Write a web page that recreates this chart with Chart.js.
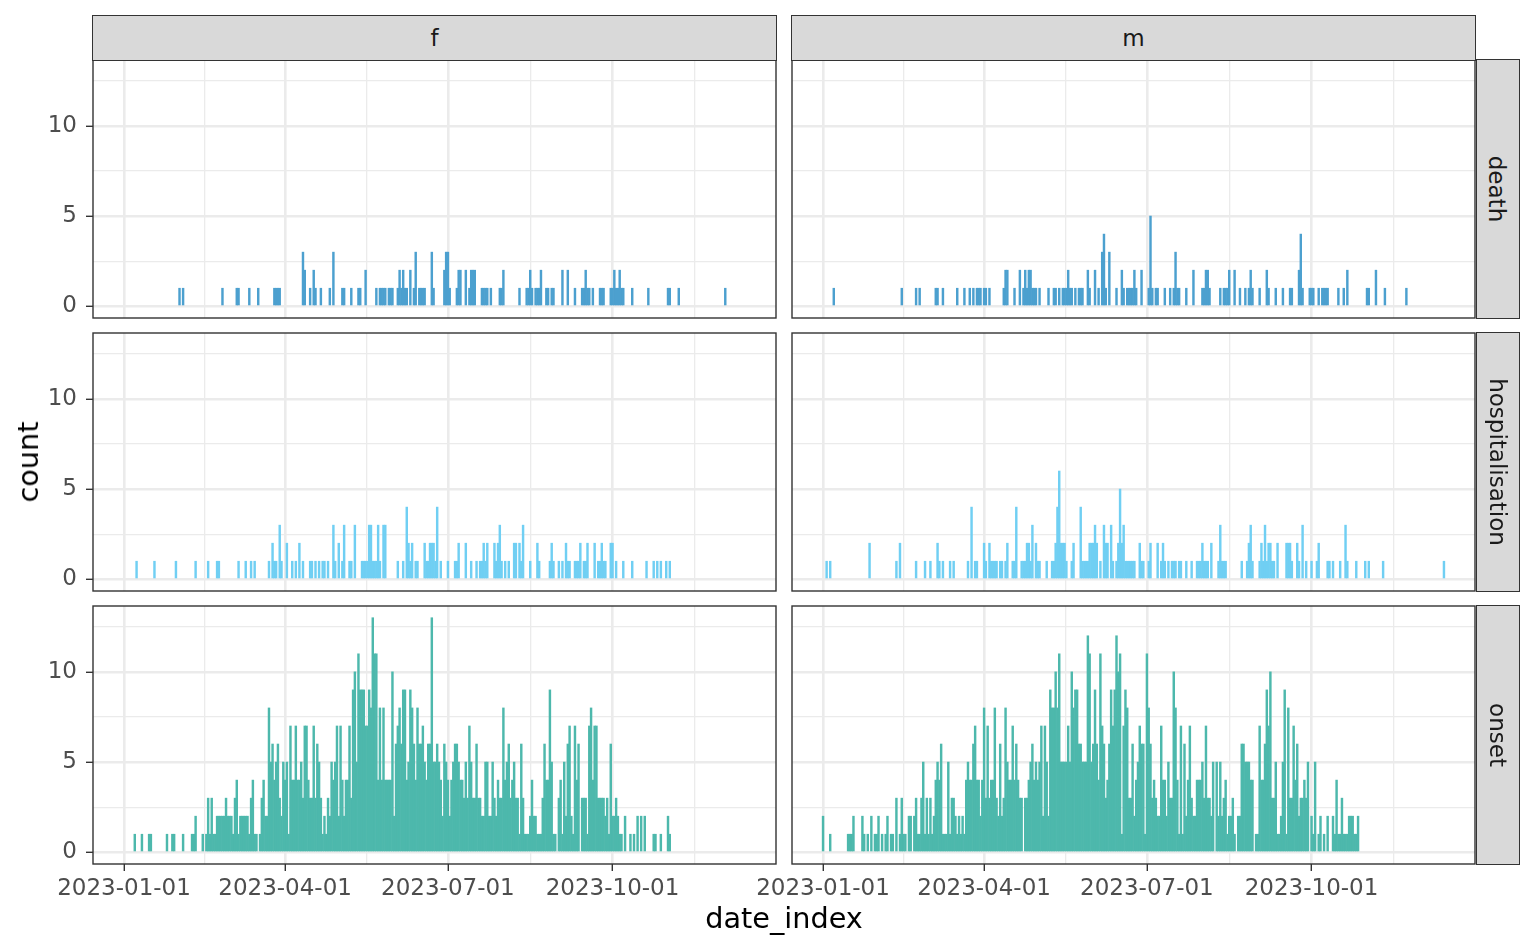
<!DOCTYPE html>
<html>
<head>
<meta charset="utf-8">
<script src="https://cdn.jsdelivr.net/npm/chart.js@4.4.1/dist/chart.umd.min.js"></script>
<style>
  body { margin: 0; background: #fff; width: 1536px; height: 949px; position: relative; overflow: hidden; font-family: "DejaVu Sans", sans-serif; }
  canvas { position: absolute; }
  .strip { position: absolute; background: #d9d9d9; border: 1.4px solid #333; box-sizing: border-box; color: #1a1a1a; font-size: 23px; display: flex; align-items: center; justify-content: center; }
  .strip.right span { transform: rotate(90deg); white-space: nowrap; }
  .title { position: absolute; font-size: 28.7px; color: #000; white-space: nowrap; transform: translate(-50%, -50%); }
</style>
</head>
<body>
<script>
Chart.defaults.font.family = '"DejaVu Sans", sans-serif';
Chart.defaults.color = '#4d4d4d';

const startDate = '2023-01-01';
const sexes = ['f', 'm'];
const outcomes = ['death', 'hospitalisation', 'onset'];
// vibrant palette at 70% over white
const outcomeColors = ['rgb(76,160,207)', 'rgb(112,207,243)', 'rgb(77,184,172)'];
const xTickDates = ['2023-01-01', '2023-04-01', '2023-07-01', '2023-10-01'];
const yTicks = [0, 5, 10];

// [days since 2023-01-01, count]
const deathF = [[31,1],[33,1],[55,1],[63,1],[64,1],[70,1],[75,1],[84,1],[85,1],[86,1],[87,1],[100,3],[101,2],[104,1],[106,2],[107,1],[110,1],[115,1],[117,3],[122,1],[123,1],[127,1],[131,1],[132,1],[135,2],[141,1],[143,1],[144,1],[145,1],[146,1],[148,1],[149,1],[150,1],[153,1],[154,2],[155,1],[156,2],[157,1],[158,1],[160,2],[162,1],[163,3],[165,1],[166,1],[167,1],[168,1],[172,3],[173,1],
  [179,2],[180,3],[181,3],[182,1],[186,1],[187,2],[188,2],[191,2],[193,1],[194,2],[195,2],[196,2],[200,1],[201,1],[202,1],[203,1],[205,1],[210,1],[211,1],[212,2],[221,1],[225,1],[226,1],[227,2],[228,1],[230,1],[231,1],[232,1],[233,2],[236,1],[237,1],[239,1],[240,1],[245,2],[248,2],[252,1],[256,1],[257,1],[258,2],[259,1],[260,1],[262,1],[266,1],[267,1],[268,1],[272,1],[273,1],[274,2],[275,1],[276,1],[277,2],[278,1],[279,1],[284,1],[293,1],[304,1],[305,1],[310,1],[336,1]];
const deathM = [[6,1],[44,1],[52,1],[54,1],[63,1],[64,1],[67,1],[75,1],[79,1],[82,1],[84,1],[86,1],[87,1],[88,1],[90,1],[91,1],[93,1],[101,1],[102,2],[103,2],[107,1],[110,2],[112,1],[113,2],[114,1],[115,2],[116,2],[117,1],[118,1],[119,1],[121,1],[126,1],[129,1],[130,1],[132,1],[134,1],[135,1],[136,1],[137,2],[138,1],[139,1],[141,1],[143,1],[144,1],[145,1],[148,2],[149,1],[152,2],[154,1],[156,3],[157,4],[158,1],[160,3],[164,1],[167,2],[168,1],[170,1],[171,1],[172,1],[173,1],
  [174,2],[175,1],[178,2],[182,1],[183,5],[184,1],[186,1],[187,1],[191,1],[194,1],[196,1],[197,3],[198,1],[199,1],[203,1],[207,2],[212,1],[213,1],[214,2],[215,2],[216,1],[222,1],[224,1],[225,1],[226,1],[227,2],[230,2],[233,1],[236,1],[238,1],[239,2],[240,1],[244,1],[248,2],[249,1],[253,1],[257,1],[261,1],[262,1],[266,2],[267,4],[268,1],[272,1],[273,1],[274,1],[277,1],[279,1],[280,1],[281,1],[282,1],[288,1],[291,1],[293,2],[304,1],[305,1],[309,2],[314,1],[326,1]];
const hospF = [[7,1],[17,1],[29,1],[40,1],[47,1],[52,1],[53,1],[64,1],[68,1],[71,1],[73,1],[81,1],[83,2],[84,1],[85,1],[87,3],[88,1],[91,2],[94,1],[96,1],[98,2],[100,1],[104,1],[105,1],[107,1],[109,1],[111,1],[112,1],[114,1],[117,3],[118,1],[120,2],[122,1],[123,3],[126,1],[127,1],[129,3],[133,1],[134,1],[135,1],[136,1],[137,3],[138,3],[139,1],[140,1],[141,1],[142,3],[143,1],[145,3],[146,3],[153,1],[156,1],[158,4],[159,2],[160,1],[161,2],[163,1],[164,1],[168,2],[169,1],[170,1],[171,2],[172,2],[173,2],
  [174,1],[175,4],[177,1],[181,1],[185,1],[186,1],[187,2],[191,2],[194,1],[197,1],[199,1],[200,1],[201,2],[202,1],[203,2],[207,2],[208,1],[209,2],[210,3],[211,1],[213,1],[215,1],[218,2],[219,2],[221,2],[222,1],[223,3],[227,1],[231,2],[232,1],[238,1],[239,2],[240,1],[243,1],[245,1],[247,2],[248,1],[249,1],[252,1],[253,1],[254,1],[255,2],[257,1],[258,1],[259,2],[263,2],[265,1],[266,1],[267,2],[268,1],[269,1],[272,2],[273,2],[275,1],[279,1],[284,1],[292,1],[296,1],[298,1],[300,1],[303,1],[305,1]];
const hospM = [[2,1],[4,1],[26,2],[41,1],[43,2],[52,1],[57,1],[60,1],[64,2],[65,1],[67,1],[71,1],[73,1],[81,1],[83,4],[85,1],[86,1],[90,2],[91,1],[93,2],[94,1],[95,1],[96,1],[97,1],[99,1],[100,1],[102,1],[103,2],[106,1],[107,1],[108,4],[111,1],[112,1],[113,1],[114,2],[115,2],[116,1],[117,3],[119,2],[120,1],[121,1],[125,1],[128,1],[129,1],[130,2],[131,4],[132,6],[133,2],[134,2],[135,2],[136,1],[139,1],[140,2],[144,4],[145,1],[146,1],[147,1],[148,1],[149,2],[150,2],[151,2],[152,3],[153,2],[155,1],[157,3],[158,2],[159,2],[161,3],[162,1],[164,1],[165,2],[166,5],[167,2],[168,3],[169,1],[170,1],[171,1],[172,1],[173,1],
  [174,1],[177,2],[178,1],[179,1],[182,1],[183,2],[187,2],[189,1],[190,2],[191,1],[193,1],[195,1],[196,1],[197,1],[199,1],[200,1],[203,1],[206,1],[209,1],[210,1],[211,1],[212,2],[213,1],[214,1],[215,1],[217,2],[221,1],[222,3],[223,1],[224,1],[225,1],[234,1],[237,1],[238,2],[239,3],[240,1],[244,1],[245,2],[246,1],[247,3],[248,1],[249,2],[250,2],[251,1],[252,1],[254,2],[259,2],[260,2],[261,2],[262,1],[265,2],[266,1],[268,3],[270,1],[273,1],[276,1],[277,2],[282,1],[283,1],[285,1],[289,1],[292,3],[293,1],[298,1],[303,1],[305,1],[313,1],[347,1]];

// daily counts starting 2023-01-01
const onsetF = [
  0,0,0,0,0,0,1,0,0,0, 1,0,0,0,1,1,0,0,0,0, 0,0,0,0,1,0,0,1,1,0, 0,0,0,1,0,0,0,0,1,1,
  2,0,0,0,1,0,1,3,1,3, 1,1,2,2,2,2,2,3,2,2, 2,1,3,4,1,2,2,2,2,2, 1,3,4,1,1,0,1,3,4,2,
  2,8,5,6,4,5,6,3,2,5, 4,5,1,7,4,4,7,4,4,5, 3,7,7,4,3,3,7,3,6,5, 3,1,2,1,3,2,5,4,5,7,
  2,7,4,2,4,4,7,3,9,10, 5,11,9,9,9,7,7,9,8,13, 11,11,4,8,4,8,4,4,4,4, 10,2,6,7,8,6,9,9,4,5,
  9,8,6,4,8,6,6,7,5,4, 6,6,13,5,5,6,5,4,2,6, 5,4,2,4,5,6,6,5,4,4, 3,5,3,7,5,3,3,6,3,3,
  2,2,5,5,2,2,5,3,2,4, 3,3,8,4,5,6,3,4,5,3, 3,1,6,3,1,1,1,2,4,2, 2,1,1,1,3,6,4,4,9,5,
  1,1,0,3,4,1,5,2,6,7, 2,1,7,4,6,0,3,3,3,1, 7,8,4,7,7,3,3,3,3,2, 3,1,6,2,2,3,2,1,1,0,
  2,0,0,1,0,1,0,2,0,2, 0,2,0,0,0,0,1,1,0,0, 1,0,0,0,2,1
];
const onsetM = [
  2,0,0,0,1,0,0,0,0,0, 0,0,0,0,1,1,1,2,0,0, 0,0,2,1,0,1,0,2,0,1, 1,2,0,1,0,1,2,0,1,1,
  0,3,0,1,3,1,1,0,2,2, 0,2,3,1,1,3,5,1,3,1, 3,1,2,4,5,4,6,1,1,1, 5,1,3,3,2,1,2,1,2,1,
  4,5,4,4,6,7,4,4,2,4, 8,3,7,3,4,4,8,3,2,6, 2,3,8,5,4,4,7,4,6,4, 3,3,0,3,3,4,5,6,4,5,
  4,5,7,2,7,5,2,9,8,8, 10,8,11,5,5,5,5,7,5,10, 8,9,9,6,6,5,5,5,12,11, 5,6,9,6,4,11,7,6,3,4,
  6,9,7,9,12,10,11,1,7,9, 8,3,3,6,2,4,5,7,6,6, 1,11,8,6,3,4,3,2,2,7, 4,4,2,5,3,3,10,8,4,1,
  7,1,6,2,4,7,3,2,2,4, 4,4,5,3,7,3,3,2,5,0, 5,2,5,2,3,4,1,2,2,3, 1,0,2,2,6,6,5,5,5,4,
  4,0,1,1,7,4,4,6,9,7, 10,3,3,5,1,1,2,5,9,1, 8,3,3,7,4,6,2,3,3,4, 3,5,0,2,1,5,0,1,2,0,
  1,0,2,0,0,2,1,4,1,1, 3,1,1,1,2,2,2,1,1,2
];

const DAY = 864e5;
const t0 = Date.parse(startDate);
const dayOf = s => Math.round((Date.parse(s) - t0) / DAY);
const labelOf = d => new Date(t0 + d * DAY).toISOString().slice(0, 10);

// every panel as [day, count] pairs
const panels = [
  [deathF, deathM],
  [hospF, hospM],
  [onsetF.map((v, i) => [i, v]), onsetM.map((v, i) => [i, v])]
];

const allPairs = panels.flat(2).filter(p => p[1] > 0);
const firstDay = Math.min(...allPairs.map(p => p[0]));
const lastDay = Math.max(...allPairs.map(p => p[0]));
const maxCount = Math.max(...allPairs.map(p => p[1]));
const xPad = 0.05 * (lastDay - firstDay);
const xMin = firstDay - xPad, xMax = lastDay + xPad;
const yMin = -0.05 * maxCount, yMax = 1.05 * maxCount;

// major/minor breaks like ggplot
const xMajor = xTickDates.map(dayOf);
const xMinor = [];
for (let i = 0; i < xMajor.length - 1; i++) xMinor.push((xMajor[i] + xMajor[i + 1]) / 2);
xMinor.push(xMajor[xMajor.length - 1] + (xMajor[xMajor.length - 1] - xMajor[xMajor.length - 2]) / 2);
const xGrid = [...xMajor, ...xMinor].filter(v => v > xMin && v < xMax).sort((a, b) => a - b);
const yGrid = [];
for (let i = 0; i < yTicks.length; i++) {
  yGrid.push(yTicks[i]);
  const step = yTicks[1] - yTicks[0];
  if (yTicks[i] + step / 2 < yMax) yGrid.push(yTicks[i] + step / 2);
}

// one slot per day so every bar is one day wide; empty days get no bar
function dense(pairs) {
  const m = new Map(pairs);
  const out = [];
  for (let d = firstDay; d <= lastDay; d++) out.push({ x: d, y: m.get(d) ? m.get(d) : null });
  return out;
}

const panelBorder = {
  id: 'panelBorder',
  afterDatasetsDraw(chart) {
    const { ctx, chartArea: a } = chart;
    ctx.save();
    ctx.strokeStyle = '#333333';
    ctx.lineWidth = 1.4;
    ctx.strokeRect(a.left, a.top, a.right - a.left, a.bottom - a.top);
    ctx.restore();
  }
};

// panel geometry in page pixels
const panelW = 683, panelH = 258;
const colLeft = [93, 792];
const rowTop = [60, 333, 606];

function makePanel(r, c) {
  const isLeft = c === 0, isBottom = r === panels.length - 1;
  const padL = isLeft ? 2 : 52;
  const yW = isLeft ? 91 : 0;
  const xH = isBottom ? 56 : 0;
  const canvas = document.createElement('canvas');
  canvas.width = padL + yW + panelW + 2;
  canvas.height = 2 + panelH + xH + 2;
  canvas.style.left = (colLeft[c] - yW - padL) + 'px';
  canvas.style.top = (rowTop[r] - 2) + 'px';
  document.body.appendChild(canvas);

  new Chart(canvas.getContext('2d'), {
    type: 'bar',
    data: {
      datasets: [{
        label: outcomes[r] + ' ' + sexes[c],
        data: dense(panels[r][c]),
        backgroundColor: outcomeColors[r],
        borderWidth: 0,
        barPercentage: 1,
        categoryPercentage: 1
      }]
    },
    options: {
      responsive: false,
      animation: false,
      devicePixelRatio: 1,
      layout: { padding: { left: padL, right: 2, top: 2, bottom: 2 } },
      scales: {
        x: {
          type: 'linear',
          min: xMin,
          max: xMax,
          offset: false,
          afterBuildTicks: s => { s.ticks = xGrid.map(v => ({ value: v })); },
          afterFit: s => { s.height = xH; s.paddingLeft = 0; s.paddingRight = 0; },
          ticks: {
            display: isBottom,
            autoSkip: false,
            maxRotation: 0,
            padding: 4,
            color: '#4d4d4d',
            font: { size: 23 },
            callback: v => xMajor.includes(v) ? labelOf(v) : ''
          },
          grid: {
            offset: false,
            color: '#ebebeb',
            lineWidth: ctx => xMajor.includes(ctx.tick && ctx.tick.value) ? 2.6 : 1.3,
            drawTicks: isBottom,
            tickLength: 7,
            tickWidth: 1.4,
            tickColor: ctx => xMajor.includes(ctx.tick && ctx.tick.value) ? '#333333' : 'rgba(0,0,0,0)'
          },
          border: { display: false }
        },
        y: {
          min: yMin,
          max: yMax,
          afterBuildTicks: s => { s.ticks = yGrid.map(v => ({ value: v })); },
          afterFit: s => { s.width = yW; s.paddingTop = 0; s.paddingBottom = 0; },
          ticks: {
            display: isLeft,
            padding: 9,
            color: '#4d4d4d',
            font: { size: 23 },
            callback: v => yTicks.includes(v) ? String(v) : ''
          },
          grid: {
            color: '#ebebeb',
            lineWidth: ctx => yTicks.includes(ctx.tick && ctx.tick.value) ? 2.6 : 1.3,
            drawTicks: isLeft,
            tickLength: 7,
            tickWidth: 1.4,
            tickColor: ctx => yTicks.includes(ctx.tick && ctx.tick.value) ? '#333333' : 'rgba(0,0,0,0)'
          },
          border: { display: false }
        }
      },
      plugins: { legend: { display: false }, tooltip: { enabled: false } }
    },
    plugins: [panelBorder]
  });
}

outcomes.forEach((o, r) => sexes.forEach((s, c) => makePanel(r, c)));

// facet strips
sexes.forEach((s, c) => {
  const d = document.createElement('div');
  d.className = 'strip';
  d.style.left = (colLeft[c] - 0.7) + 'px';
  d.style.top = '15px';
  d.style.width = (panelW + 1.4) + 'px';
  d.style.height = '45.7px';
  d.textContent = s;
  document.body.appendChild(d);
});
outcomes.forEach((o, r) => {
  const d = document.createElement('div');
  d.className = 'strip right';
  d.style.left = (colLeft[1] + panelW + 0.7) + 'px';
  d.style.top = (rowTop[r] - 0.7) + 'px';
  d.style.width = '44px';
  d.style.height = (panelH + 1.4) + 'px';
  const sp = document.createElement('span');
  sp.textContent = o;
  d.appendChild(sp);
  document.body.appendChild(d);
});

// axis titles
const yTitle = document.createElement('div');
yTitle.className = 'title';
yTitle.textContent = 'count';
yTitle.style.left = '28px';
yTitle.style.top = '462px';
yTitle.style.transform = 'translate(-50%, -50%) rotate(-90deg)';
document.body.appendChild(yTitle);

const xTitle = document.createElement('div');
xTitle.className = 'title';
xTitle.textContent = 'date_index';
xTitle.style.left = '784px';
xTitle.style.top = '918px';
document.body.appendChild(xTitle);
</script>
</body>
</html>
